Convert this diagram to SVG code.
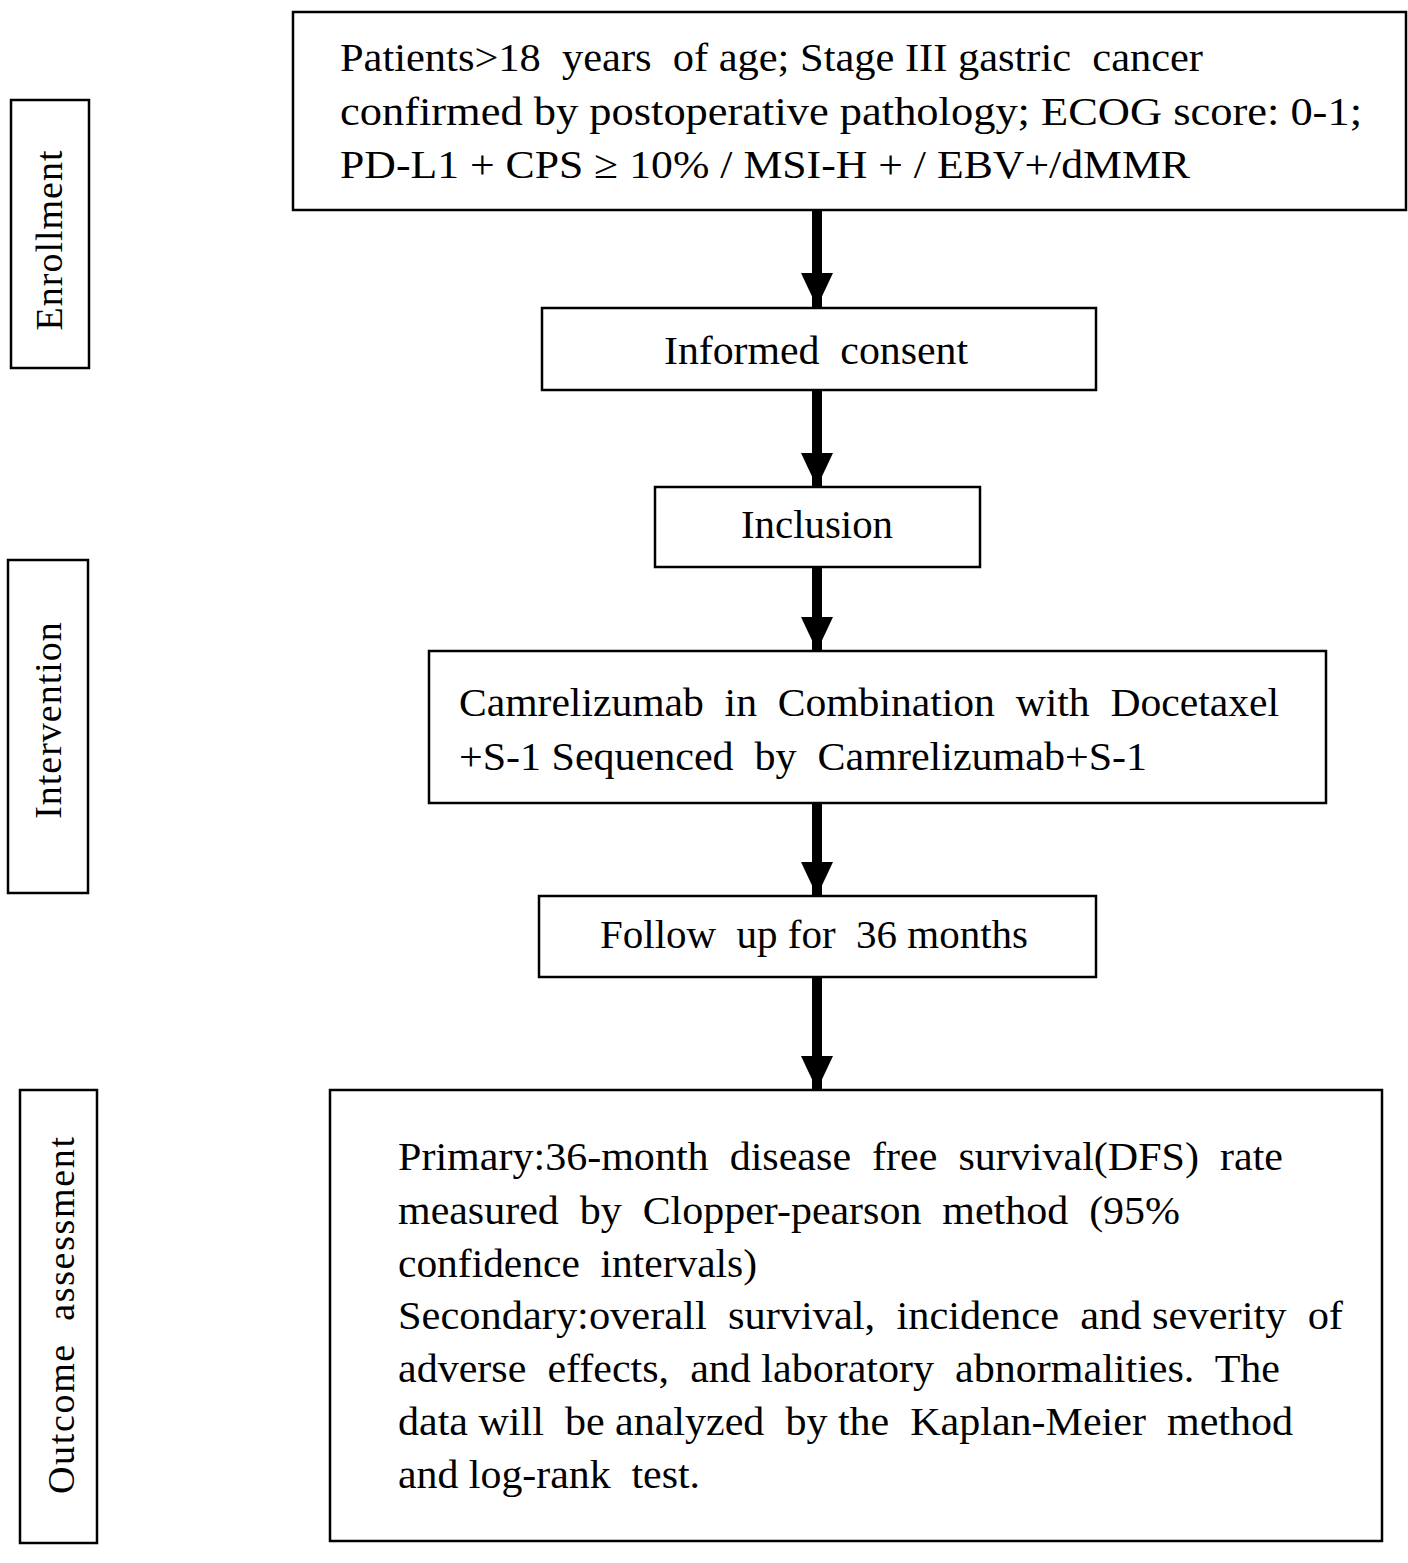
<svg xmlns="http://www.w3.org/2000/svg" width="1408" height="1563" viewBox="0 0 1408 1563">
<style>
.box{fill:#fff;stroke:#000;stroke-width:2.5}
.t{font-family:"Liberation Serif","Times New Roman",serif;font-size:40px;fill:#000}
.m{text-anchor:middle}
.lab{font-family:"Liberation Serif","Times New Roman",serif;font-size:38px;fill:#000;text-anchor:middle;letter-spacing:1px}
.sh{stroke:#000;stroke-width:10;fill:none}
</style>
<defs>
<marker id="ah" markerUnits="userSpaceOnUse" markerWidth="34" markerHeight="32" refX="34" refY="16" orient="auto">
<path d="M0,0 L34,16 L0,32 Z" fill="#000"/>
</marker>
</defs>
<rect width="1408" height="1563" fill="#fff"/>
<g id="connectors">
<line class="sh" x1="817" y1="211" x2="817" y2="307" marker-end="url(#ah)"/>
<line class="sh" x1="817" y1="391" x2="817" y2="487" marker-end="url(#ah)"/>
<line class="sh" x1="817" y1="568" x2="817" y2="651" marker-end="url(#ah)"/>
<line class="sh" x1="817" y1="804" x2="817" y2="896" marker-end="url(#ah)"/>
<line class="sh" x1="817" y1="978" x2="817" y2="1090" marker-end="url(#ah)"/>
</g>
<g id="enrollment">
<rect class="box" x="11" y="100" width="78" height="268"/>
<text class="lab" transform="translate(62,240) rotate(-90)">Enrollment</text>
</g>
<g id="intervention">
<rect class="box" x="8" y="560" width="80" height="333"/>
<text class="lab" transform="translate(61,720) rotate(-90)">Intervention</text>
</g>
<g id="outcome-label">
<rect class="box" x="20" y="1090" width="77" height="453"/>
<text class="lab" transform="translate(74,1315) rotate(-90)" textLength="358" xml:space="preserve">Outcome  assessment</text>
</g>
<g id="criteria">
<rect class="box" x="293" y="12" width="1113" height="198"/>
<text class="t" x="340" y="71" textLength="863" lengthAdjust="spacingAndGlyphs" xml:space="preserve">Patients&gt;18  years  of age; Stage III gastric  cancer</text>
<text class="t" x="340" y="125" textLength="1022" lengthAdjust="spacingAndGlyphs">confirmed by postoperative pathology; ECOG score: 0-1;</text>
<text class="t" x="340" y="178" textLength="850" lengthAdjust="spacingAndGlyphs">PD-L1 + CPS ≥ 10% / MSI-H + / EBV+/dMMR</text>
</g>
<g id="consent">
<rect class="box" x="542" y="308" width="554" height="82"/>
<text class="t" x="664" y="364" textLength="304" lengthAdjust="spacingAndGlyphs" xml:space="preserve">Informed  consent</text>
</g>
<g id="inclusion">
<rect class="box" x="655" y="487" width="325" height="80"/>
<text class="t" x="741" y="538" textLength="152" lengthAdjust="spacingAndGlyphs">Inclusion</text>
</g>
<g id="treatment">
<rect class="box" x="429" y="651" width="897" height="152"/>
<text class="t" x="459" y="716" textLength="820" lengthAdjust="spacingAndGlyphs" xml:space="preserve">Camrelizumab  in  Combination  with  Docetaxel</text>
<text class="t" x="459" y="770" textLength="688" lengthAdjust="spacingAndGlyphs" xml:space="preserve">+S-1 Sequenced  by  Camrelizumab+S-1</text>
</g>
<g id="followup">
<rect class="box" x="539" y="896" width="557" height="81"/>
<text class="t" x="600" y="948" textLength="428" lengthAdjust="spacingAndGlyphs" xml:space="preserve">Follow  up for  36 months</text>
</g>
<g id="outcomes">
<rect class="box" x="330" y="1090" width="1052" height="451"/>
<text class="t" x="398" y="1170" textLength="885" lengthAdjust="spacingAndGlyphs" xml:space="preserve">Primary:36-month  disease  free  survival(DFS)  rate</text>
<text class="t" x="398" y="1224" textLength="782" lengthAdjust="spacingAndGlyphs" xml:space="preserve">measured  by  Clopper-pearson  method  (95%</text>
<text class="t" x="398" y="1277" textLength="359" lengthAdjust="spacingAndGlyphs" xml:space="preserve">confidence  intervals)</text>
<text class="t" x="398" y="1329" textLength="945" lengthAdjust="spacingAndGlyphs" xml:space="preserve">Secondary:overall  survival,  incidence  and severity  of</text>
<text class="t" x="398" y="1382" textLength="882" lengthAdjust="spacingAndGlyphs" xml:space="preserve">adverse  effects,  and laboratory  abnormalities.  The</text>
<text class="t" x="398" y="1435" textLength="895" lengthAdjust="spacingAndGlyphs" xml:space="preserve">data will  be analyzed  by the  Kaplan-Meier  method</text>
<text class="t" x="398" y="1488" textLength="302" lengthAdjust="spacingAndGlyphs" xml:space="preserve">and log-rank  test.</text>
</g>
</svg>
